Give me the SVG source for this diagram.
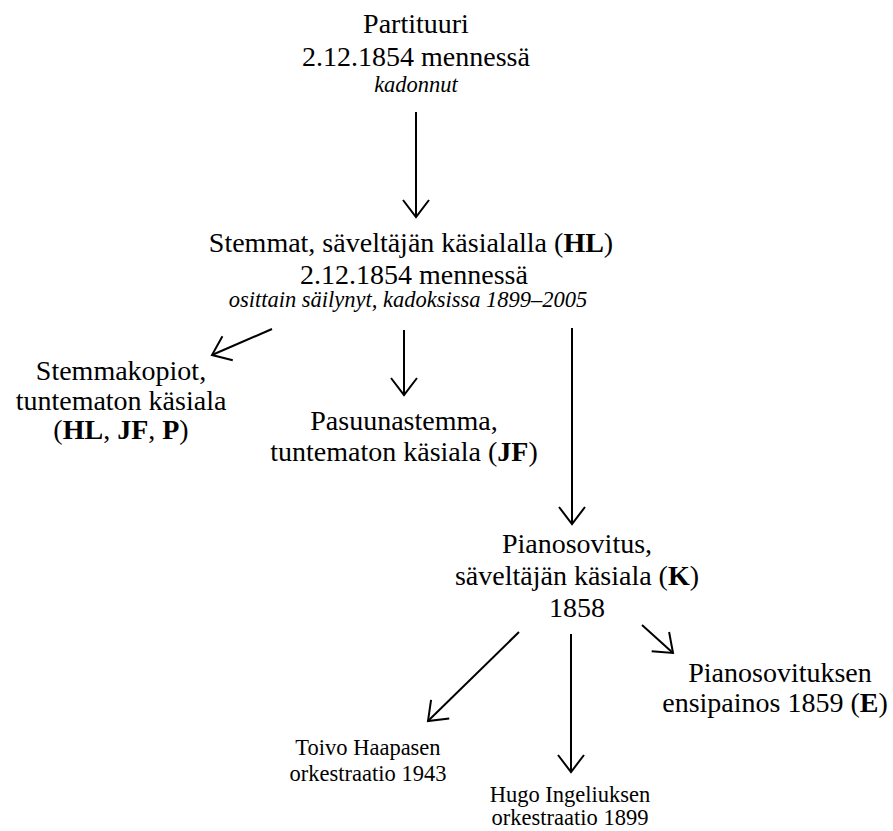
<svg xmlns="http://www.w3.org/2000/svg" width="893" height="831" viewBox="0 0 893 831">
<style>
text{font-family:"Liberation Serif","Times New Roman",serif;fill:#000;text-anchor:middle}
.m{font-size:28px}
.i{font-size:22.5px;font-style:italic}
.s{font-size:22.5px}
.b{font-weight:bold}
.c{stroke:#000;stroke-width:2;fill:none;marker-end:url(#ah)}
</style>
<defs>
<marker id="ah" markerUnits="userSpaceOnUse" orient="auto" refX="0" refY="0" markerWidth="40" markerHeight="40" viewBox="-20 -20 40 40" overflow="visible">
<path d="M-17,-13 L0,0 L-17,13" fill="none" stroke="#000" stroke-width="2"/>
</marker>
</defs>
<rect width="893" height="831" fill="#fff"/>
<g id="connectors">
<line class="c" x1="416" y1="112" x2="416" y2="217"/>
<line class="c" x1="272" y1="329" x2="212" y2="355"/>
<line class="c" x1="404" y1="330" x2="404" y2="395"/>
<line class="c" x1="572" y1="328" x2="572" y2="524"/>
<line class="c" x1="519" y1="632" x2="428" y2="721"/>
<line class="c" x1="571" y1="634" x2="571" y2="772"/>
<line class="c" x1="642" y1="625" x2="673" y2="653"/>
</g>
<g id="partituuri">
<text class="m" x="416" y="33">Partituuri</text>
<text class="m" x="416" y="66">2.12.1854 mennessä</text>
<text class="i" x="416" y="92">kadonnut</text>
</g>
<g id="stemmat">
<text class="m" x="411" y="252">Stemmat, säveltäjän käsialalla (<tspan class="b">HL</tspan>)</text>
<text class="m" x="414" y="284">2.12.1854 mennessä</text>
<text class="i" x="408" y="307">osittain säilynyt, kadoksissa 1899–2005</text>
</g>
<g id="stemmakopiot">
<text class="m" x="121" y="380">Stemmakopiot,</text>
<text class="m" x="121" y="410">tuntematon käsiala</text>
<text class="m" x="121" y="439">(<tspan class="b">HL</tspan>, <tspan class="b">JF</tspan>, <tspan class="b">P</tspan>)</text>
</g>
<g id="pasuunastemma">
<text class="m" x="404" y="430">Pasuunastemma,</text>
<text class="m" x="404" y="461">tuntematon käsiala (<tspan class="b">JF</tspan>)</text>
</g>
<g id="pianosovitus">
<text class="m" x="577" y="553">Pianosovitus,</text>
<text class="m" x="577" y="585">säveltäjän käsiala (<tspan class="b">K</tspan>)</text>
<text class="m" x="577" y="617">1858</text>
</g>
<g id="ensipainos">
<text class="m" x="780" y="682">Pianosovituksen</text>
<text class="m" x="775" y="712">ensipainos 1859 (<tspan class="b">E</tspan>)</text>
</g>
<g id="haapanen">
<text class="s" x="368" y="755">Toivo Haapasen</text>
<text class="s" x="368" y="781">orkestraatio 1943</text>
</g>
<g id="ingelius">
<text class="s" x="570" y="802">Hugo Ingeliuksen</text>
<text class="s" x="570" y="825">orkestraatio 1899</text>
</g>
</svg>
